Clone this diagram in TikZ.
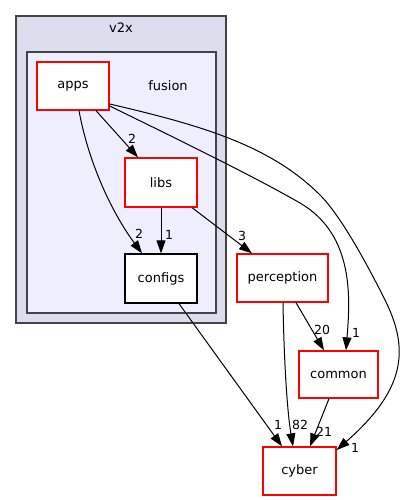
\documentclass[tikz,border=0pt]{standalone}
\usepackage{fontspec}
\setmainfont{DejaVu Sans}
\usetikzlibrary{arrows.meta,calc}
\definecolor{clout}{HTML}{DDDDEE}
\definecolor{clin}{HTML}{EEEEFF}
\definecolor{clborder}{HTML}{444444}
\begin{document}
\begin{tikzpicture}[x=1pt,y=-1pt,
  cluster/.style={draw=clborder, line width=2pt, inner sep=0pt},
  dirbox/.style={draw=red, fill=white, line width=1.3pt, inner sep=0pt,
    font=\fontsize{13}{15}\selectfont},
  leafbox/.style={dirbox, draw=black},
  edge/.style={draw=black, line width=1pt, -{Triangle[length=13pt,width=9pt]}},
  lbl/.style={inner sep=0pt, font=\fontsize{12.5}{14}\selectfont},
  cltitle/.style={inner sep=0pt, font=\fontsize{13}{15}\selectfont}]
\useasboundingbox (0,0) rectangle (409,500);
% clusters
\node[cluster, fill=clout, minimum width=210pt, minimum height=307pt] (v2x) at (121,169.5) {};
\node[cltitle] (v2xlabel) at (121,28) {v2x};
\node[cluster, fill=clin, minimum width=189pt, minimum height=261pt] (fusion) at (121.5,182.5) {};
\node[cltitle] (fusionlabel) at (168,86) {fusion};
% nodes
\node[dirbox, minimum width=72pt, minimum height=48pt] (apps) at (73,86) {apps};
\node[dirbox, minimum width=72pt, minimum height=49pt] (libs) at (161,182.5) {libs};
\node[leafbox, minimum width=72pt, minimum height=49pt] (configs) at (161,278.5) {configs};
\node[dirbox, minimum width=91pt, minimum height=48pt] (perception) at (282.5,278) {perception};
\node[dirbox, minimum width=79pt, minimum height=47pt] (common) at (338.5,374.5) {common};
\node[dirbox, minimum width=73pt, minimum height=48pt] (cyber) at (299.5,471) {cyber};
% edges
\draw[edge] ([xshift=23pt]apps.south) -- ([xshift=-23pt]libs.north);
\node[lbl] at (132,139) {2};
\draw[edge] ([xshift=6pt]apps.south) .. controls (88,160) and (110,210) .. ([xshift=-19pt]configs.north);
\node[lbl] at (139,234) {2};
\draw[edge] (libs.south) -- (configs.north);
\node[lbl] at (169,235) {1};
\draw[edge] ([xshift=31pt]libs.south) -- ([xshift=-30.5pt]perception.north);
\node[lbl] at (242,236) {3};
\draw[edge] ([yshift=-20pt]apps.east) .. controls (200,150) and (260,180) .. (300,203)
  .. controls (355,235) and (350,300) .. ([xshift=7.5pt]common.north);
\node[lbl] at (356,333) {1};
\draw[edge] ([yshift=-18pt]apps.east) .. controls (200,125) and (270,145) .. (320,195)
  .. controls (340,215) and (365,260) .. (385,300)
  .. controls (410,350) and (405,390) .. ([yshift=21pt]cyber.east);
\node[lbl] at (355,448) {1};
\draw[edge] ([xshift=18pt]configs.south) -- ([xshift=-17.5pt]cyber.north);
\node[lbl] at (278,425) {1};
\draw[edge] ([xshift=0.5pt]perception.south) .. controls (284,360) and (287,410) .. ([xshift=-6.5pt]cyber.north);
\node[lbl] at (300,425) {82};
\draw[edge] ([xshift=13.5pt]perception.south) -- ([xshift=-14.5pt]common.north);
\node[lbl] at (322,330) {20};
\draw[edge] ([xshift=-9.5pt]common.south) -- ([xshift=10.5pt]cyber.north);
\node[lbl] at (324,432) {21};
\end{tikzpicture}
\end{document}
